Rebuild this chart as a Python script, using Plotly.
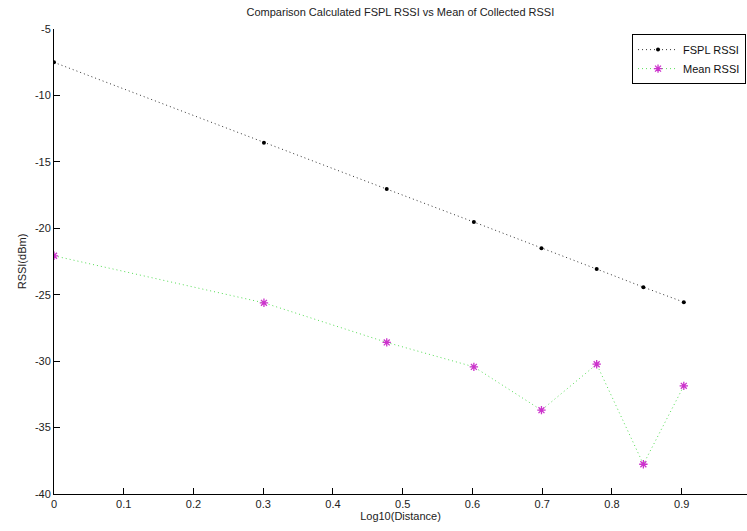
import plotly.graph_objects as go

log_distance = [0, 0.30103, 0.47712, 0.60206, 0.69897, 0.77815, 0.84510, 0.90309]
fspl_rssi = [-7.51, -13.56, -17.05, -19.53, -21.51, -23.07, -24.43, -25.56]
mean_rssi = [-22.07, -25.61, -28.59, -30.43, -33.69, -30.23, -37.76, -31.86]

x_ticks = [0, 0.1, 0.2, 0.3, 0.4, 0.5, 0.6, 0.7, 0.8, 0.9]
y_ticks = [-40, -35, -30, -25, -20, -15, -10, -5]

font = "Liberation Sans, Arial, sans-serif"

fig = go.Figure()
fig.add_trace(go.Scatter(
    x=log_distance, y=fspl_rssi, name="FSPL RSSI", mode="lines+markers",
    line=dict(color="#333", width=1, dash="1px,3px"),
    marker=dict(symbol="circle", size=4, color="black"),
))
fig.add_trace(go.Scatter(
    x=log_distance, y=mean_rssi, name="Mean RSSI", mode="lines+markers",
    line=dict(color="#55dd55", width=1, dash="1px,3px"),
    marker=dict(symbol="asterisk-open", size=7, color="#cc33cc",
                line=dict(color="#cc33cc", width=1.3)),
))

axis_common = dict(
    showline=True, linecolor="black", linewidth=1, mirror=False,
    showgrid=False, zeroline=False,
    ticks="inside", ticklen=6, tickcolor="black", tickwidth=1,
    tickfont=dict(family=font, size=11, color="#222"),
)

fig.update_layout(
    width=747, height=531,
    margin=dict(l=54, r=0, t=29, b=37),
    paper_bgcolor="white", plot_bgcolor="white",
    title=dict(text="Comparison Calculated FSPL RSSI vs Mean of Collected RSSI",
               x=0.536, xanchor="center", y=0.977, yanchor="middle",
               font=dict(family=font, size=11, color="#222")),
    xaxis=dict(range=[0, 0.9937], tickvals=x_ticks,
               ticktext=[f"{v:g}" for v in x_ticks],
               title=dict(text="Log10(Distance)", standoff=2,
                          font=dict(family=font, size=11, color="#222")),
               **axis_common),
    yaxis=dict(range=[-40, -5], tickvals=y_ticks,
               ticktext=[str(v) for v in y_ticks],
               title=dict(text="RSSI(dBm)", standoff=6,
                          font=dict(family=font, size=11, color="#222")),
               **axis_common),
    legend=dict(x=0.9986, xanchor="right", y=0.989, yanchor="top",
                bordercolor="black", borderwidth=1, bgcolor="white",
                font=dict(family=font, size=11, color="#111"),
                tracegroupgap=0, itemwidth=40),
    showlegend=True,
)

fig.write_html("out.html")
